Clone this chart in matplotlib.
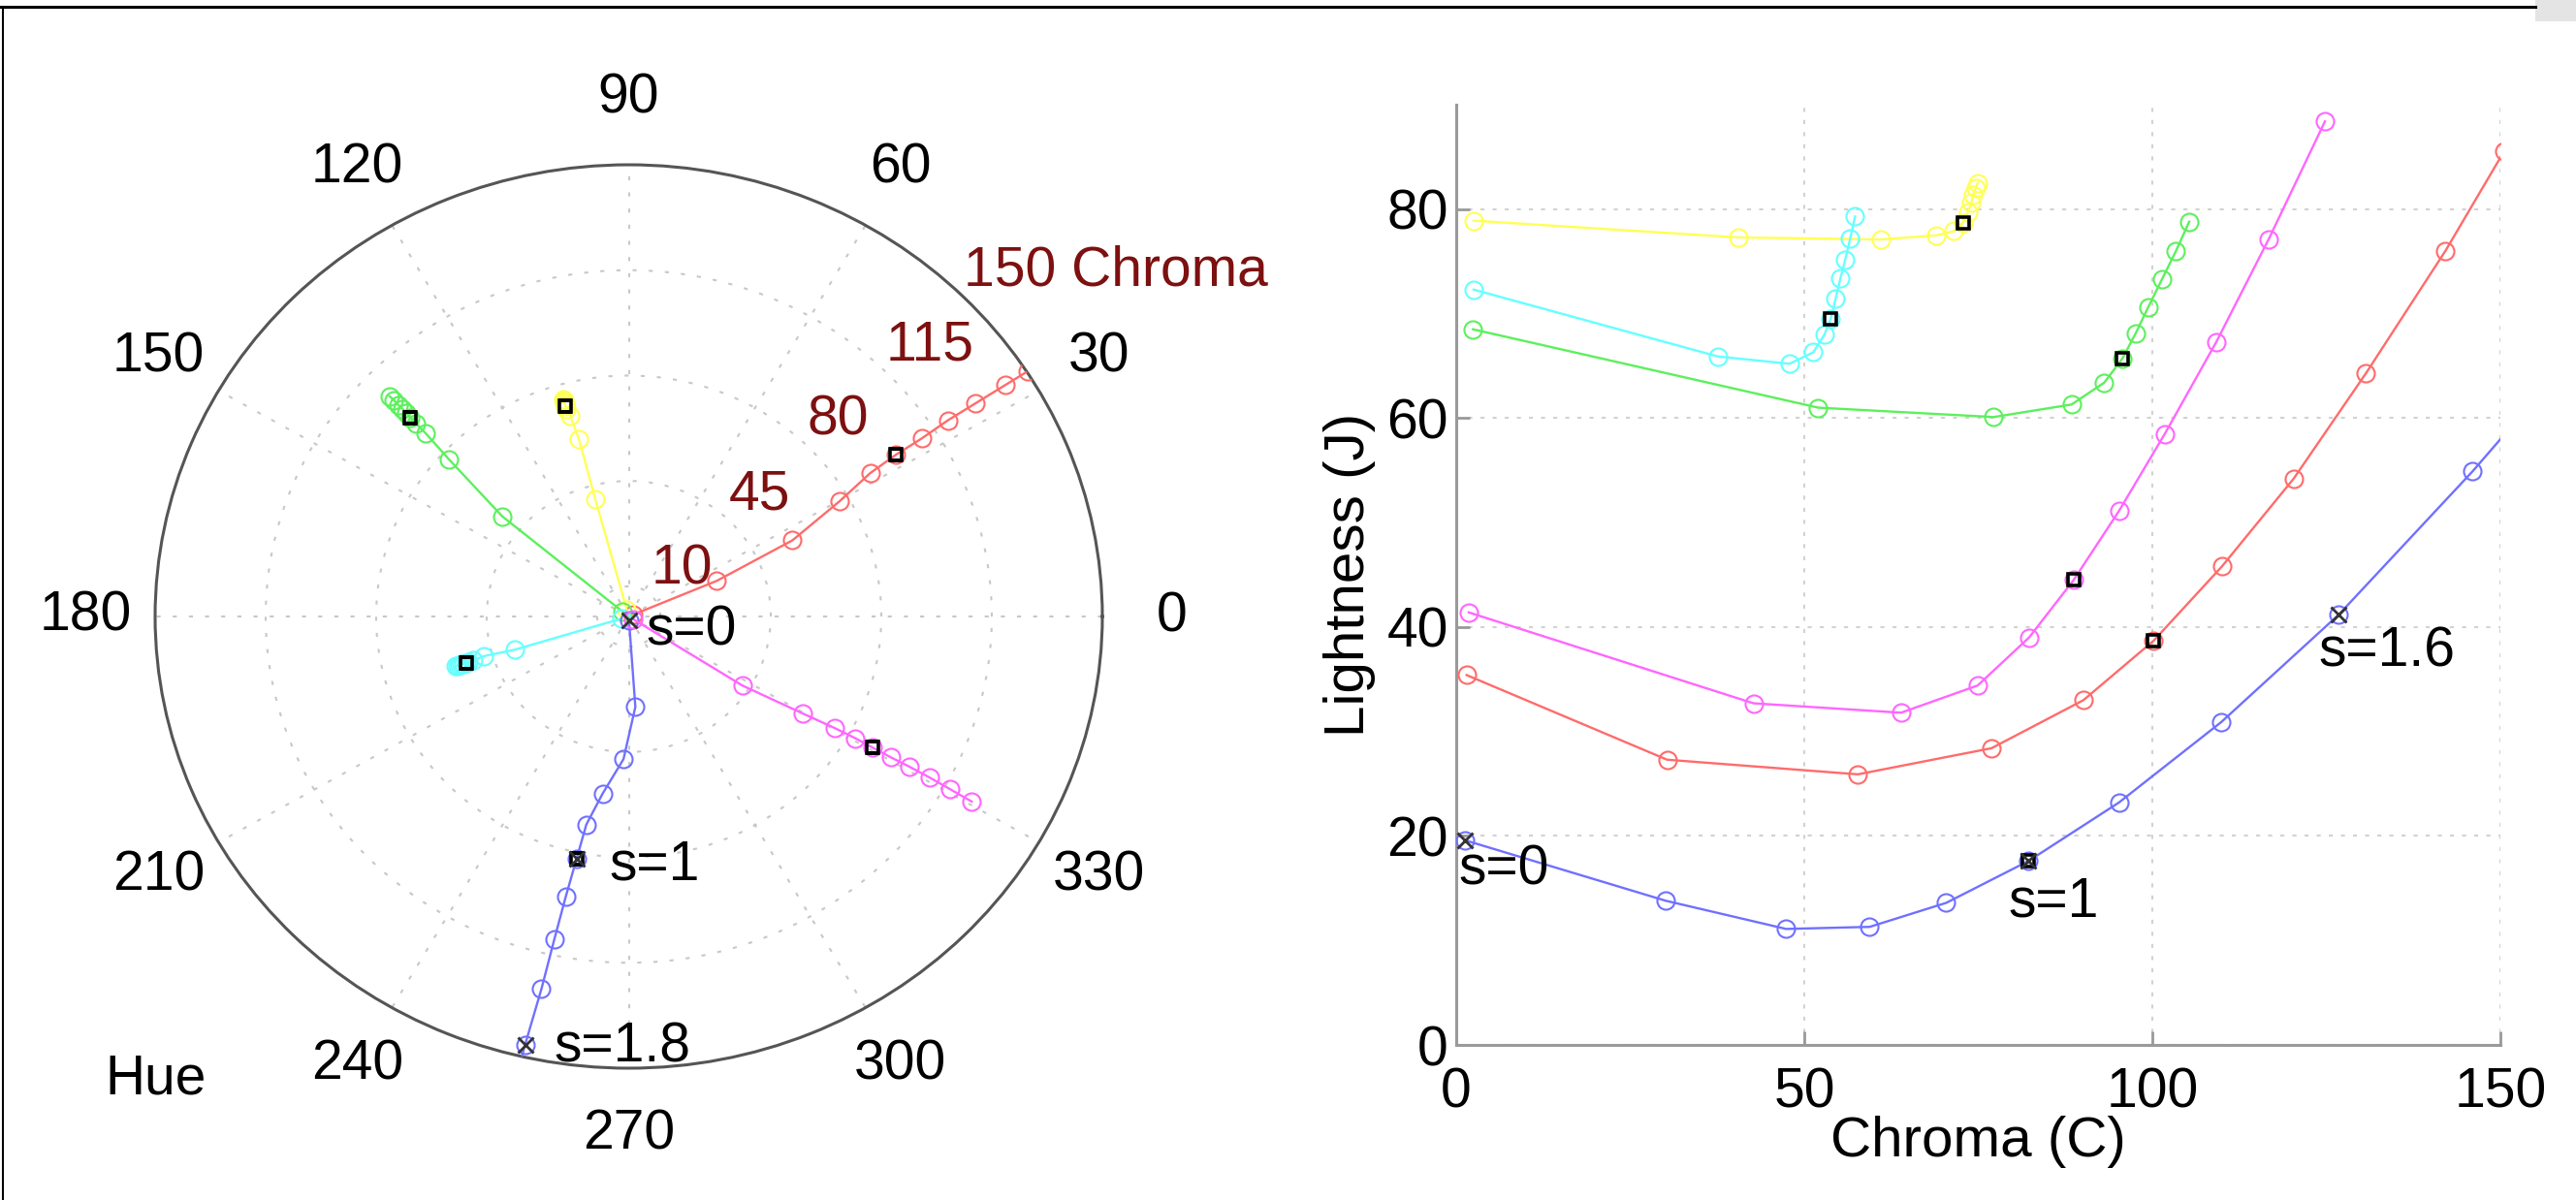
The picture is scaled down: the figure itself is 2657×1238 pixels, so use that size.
import numpy as np
import matplotlib
matplotlib.use('Agg')
import matplotlib.pyplot as plt
from matplotlib.lines import Line2D
from matplotlib.patches import Rectangle

plt.rcParams['font.family'] = ['Liberation Sans', 'DejaVu Sans']

# ---------------- data ----------------
s_values = [0.0, 0.2, 0.4, 0.6, 0.8, 1.0, 1.2, 1.4, 1.6, 1.8, 2.0]

chroma_red = [1.5, 30.3, 57.7, 76.9, 90.1, 100.2, 110.0, 120.3, 130.7, 142.1, 150.5]
light_red = [35.4, 27.3, 25.9, 28.4, 33.0, 38.7, 45.8, 54.2, 64.3, 76.0, 85.5]
hue_red = [23.0, 23.0, 26.0, 29.8, 31.9, 32.4, 32.5, 32.8, 32.8, 32.8, 32.8]

chroma_yellow = [2.5, 40.5, 61.0, 69.0, 71.5, 72.8, 73.5, 74.0, 74.3, 74.6, 74.9]
light_yellow = [78.9, 77.3, 77.1, 77.5, 77.9, 78.7, 79.7, 80.6, 81.4, 82.0, 82.5]
hue_yellow = [105.2, 105.2, 105.0, 105.5, 106.0, 106.0, 106.0, 106.0, 106.0, 106.0, 106.0]

chroma_green = [2.4, 52.0, 77.2, 88.4, 93.1, 95.7, 97.6, 99.4, 101.4, 103.4, 105.3]
light_green = [68.5, 61.0, 60.1, 61.3, 63.4, 65.7, 68.1, 70.6, 73.3, 76.0, 78.8]
hue_green = [140.3, 140.3, 137.5, 136.6, 136.4, 136.3, 136.2, 136.1, 136.1, 136.0, 136.0]

chroma_cyan = [2.5, 37.6, 47.9, 51.3, 52.9, 53.8, 54.5, 55.2, 55.9, 56.6, 57.3]
light_cyan = [72.3, 65.9, 65.2, 66.3, 68.0, 69.5, 71.4, 73.4, 75.2, 77.2, 79.3]
hue_cyan = [197.0, 197.0, 196.0, 196.5, 196.7, 196.7, 196.7, 196.7, 196.7, 196.7, 196.7]

chroma_blue = [1.2, 30.1, 47.4, 59.4, 70.4, 82.2, 95.2, 109.9, 126.8, 146.0, 165.0]
light_blue = [19.6, 13.8, 11.1, 11.3, 13.6, 17.6, 23.2, 30.9, 41.2, 54.9, 69.5]
hue_blue = [274.0, 274.0, 268.0, 262.0, 259.0, 258.4, 257.9, 257.6, 257.4, 257.0, 256.8]

chroma_magenta = [1.8, 42.7, 63.9, 74.9, 82.3, 88.7, 95.2, 101.8, 109.2, 116.7, 124.8]
light_magenta = [41.4, 32.7, 31.8, 34.4, 39.0, 44.5, 51.1, 58.5, 67.3, 77.1, 88.4]
hue_magenta = [327.5, 327.5, 329.7, 330.4, 330.6, 330.6, 330.6, 330.7, 330.7, 330.6, 330.5]

series = [
    ('#ff6b6b', chroma_red, light_red, hue_red),
    ('#ffff55', chroma_yellow, light_yellow, hue_yellow),
    ('#5cf05c', chroma_green, light_green, hue_green),
    ('#66ffff', chroma_cyan, light_cyan, hue_cyan),
    ('#7070ff', chroma_blue, light_blue, hue_blue),
    ('#ff66ff', chroma_magenta, light_magenta, hue_magenta),
]

hue_ticks = list(range(0, 360, 30))
radial_ticks = [10, 45, 80, 115]
radial_labels = ['10', '45', '80', '115', '150 Chroma']
radial_label_r = [10, 45, 80, 115, 150]
x_ticks = [0, 50, 100, 150]
y_ticks = [0, 20, 40, 60, 80]

IDX_S1 = s_values.index(1.0)

# ---------------- figure ----------------
W, H = 2657, 1238
fig = plt.figure(figsize=(W / 100, H / 100), dpi=100)
fig.patch.set_facecolor('white')

FS = 41
dark_red = '#7d1010'
grid_kw = dict(color='#c8c8c8', linestyle=(0, (2, 6)), linewidth=1.5)
MS = 13
MEW = 1.5
LW = 1.7

# ---------------- polar ----------------
pl, pr, pt, pb = 160, 1137, 170, 1102
axp = fig.add_axes([pl / W, 1 - pb / H, (pr - pl) / W, (pb - pt) / H], projection='polar')
axp.set_aspect('auto')
axp.set_ylim(0, 150)
axp.set_yticks(radial_ticks)
axp.set_yticklabels([])
axp.set_xticks(np.deg2rad(hue_ticks))
axp.set_xticklabels([])
axp.grid(True, **grid_kw)
axp.spines['polar'].set_color('#555555')
axp.spines['polar'].set_linewidth(2.2)
axp.tick_params(length=0)

for col, ch, li, hu in series:
    th = np.deg2rad(hu)
    axp.plot(th, ch, '-o', color=col, mfc='none', ms=MS, mew=MEW, lw=LW, zorder=3)
    axp.plot(th[IDX_S1], ch[IDX_S1], 's', mec='k', mfc='none', ms=8.5, mew=2.6, zorder=5)

th_b = np.deg2rad(hue_blue)
for i in [0, s_values.index(1.0), s_values.index(1.8)]:
    axp.plot(th_b[i], chroma_blue[i], 'x', color='#333333', ms=12, mew=2.0, zorder=6)

for hv in hue_ticks:
    axp.text(np.deg2rad(hv), 172, str(hv), ha='center', va='center', fontsize=FS, clip_on=False)

for lab, rv in zip(radial_labels, radial_label_r):
    axp.text(np.deg2rad(45), rv, lab, ha='left', va='bottom', fontsize=FS, color=dark_red,
             clip_on=False, zorder=7)

axp.text(0.001, -0.012, 'Hue', transform=axp.transAxes, ha='center', va='center', fontsize=FS)

axp.annotate('s=0', xy=(th_b[0], chroma_blue[0]), xytext=(18, -11), textcoords='offset pixels',
             ha='left', va='center', fontsize=FS, zorder=8, annotation_clip=False)
i1 = s_values.index(1.0)
axp.annotate('s=1', xy=(th_b[i1], chroma_blue[i1]), xytext=(34, -6), textcoords='offset pixels',
             ha='left', va='center', fontsize=FS, zorder=8, annotation_clip=False)
i18 = s_values.index(1.8)
axp.annotate('s=1.8', xy=(th_b[i18], chroma_blue[i18]), xytext=(30, -3), textcoords='offset pixels',
             ha='left', va='center', fontsize=FS, zorder=8, annotation_clip=False)

# ---------------- cartesian ----------------
cl, cr, ct, cb = 1502, 2579, 108, 1078
axc = fig.add_axes([cl / W, 1 - cb / H, (cr - cl) / W, (cb - ct) / H])
axc.set_xlim(0, 150)
axc.set_ylim(0, 90)
axc.set_xticks(x_ticks)
axc.set_yticks(y_ticks)
axc.tick_params(axis='both', direction='in', length=10, width=2, color='#999999', labelsize=FS)
axc.tick_params(axis='x', pad=16)
axc.tick_params(axis='y', pad=6)
for sp in ['top', 'right']:
    axc.spines[sp].set_visible(False)
for sp in ['left', 'bottom']:
    axc.spines[sp].set_color('#9a9a9a')
    axc.spines[sp].set_linewidth(2.2)
axc.grid(True, color='#d2d2d2', linestyle=(0, (2, 4)), linewidth=1.5)
axc.set_axisbelow(True)

for col, ch, li, hu in series:
    axc.plot(ch, li, '-o', color=col, mfc='none', ms=MS, mew=MEW, lw=LW, zorder=3)
    axc.plot(ch[IDX_S1], li[IDX_S1], 's', mec='k', mfc='none', ms=8.5, mew=2.6, zorder=5)

for i in [0, s_values.index(1.0), s_values.index(1.6)]:
    axc.plot(chroma_blue[i], light_blue[i], 'x', color='#333333', ms=12, mew=2.0, zorder=6,
             clip_on=False)

axc.annotate('s=0', xy=(chroma_blue[0], light_blue[0]), xytext=(-6, -31), textcoords='offset pixels',
             ha='left', va='center', fontsize=FS, zorder=8)
axc.annotate('s=1', xy=(chroma_blue[i1], light_blue[i1]), xytext=(-21, -42), textcoords='offset pixels',
             ha='left', va='center', fontsize=FS, zorder=8)
i16 = s_values.index(1.6)
axc.annotate('s=1.6', xy=(chroma_blue[i16], light_blue[i16]), xytext=(-21, -39), textcoords='offset pixels',
             ha='left', va='center', fontsize=FS, zorder=8)

axc.set_xlabel('Chroma (C)', fontsize=FS + 1)
axc.xaxis.set_label_coords(0.5, -0.075)
axc.xaxis.label.set_va('top')
axc.set_ylabel('Lightness (J)', fontsize=FS + 1)
axc.yaxis.set_label_coords(-0.077, 0.5)

# ---------------- frame ----------------
fig.add_artist(Line2D([0, 2615 / W], [1 - 7 / H, 1 - 7 / H], color='black', lw=2.2,
                      transform=fig.transFigure))
fig.add_artist(Line2D([3 / W, 3 / W], [0, 1 - 7 / H], color='black', lw=1.5,
                      transform=fig.transFigure))
fig.add_artist(Rectangle((2615 / W, 1 - 22 / H), 42 / W, 22 / H, transform=fig.transFigure,
                         facecolor='#e4e4e4', edgecolor='none'))

fig.savefig('out.png', dpi=100, facecolor='white')
